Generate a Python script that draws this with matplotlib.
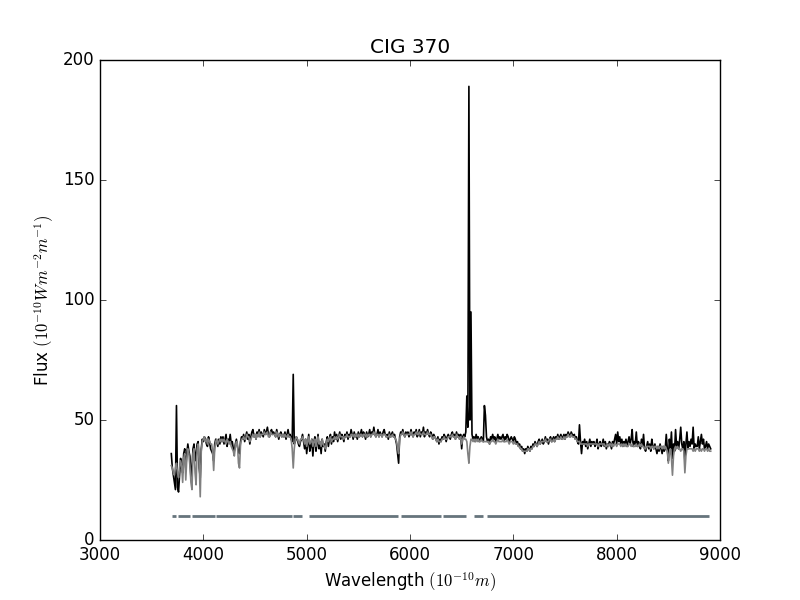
import numpy as np
import matplotlib
matplotlib.use("Agg")
import matplotlib.pyplot as plt

plt.style.use("classic")

# wavelength grid (Angstrom), 10 A sampling from 3690 to 8910
wave = np.arange(3690, 8911, 10)

# observed spectrum (black)
flux_obs = [
    36, 30, 27, 24, 21, 56, 22, 20, 27,
    34, 30, 28, 36, 38, 30, 36, 40, 37, 35,
    26, 30, 38, 40, 33, 36, 40, 41, 30, 26,
    38, 42, 41, 43, 42, 40, 39, 43, 41, 38,
    37, 36, 33, 40, 42, 41, 39, 42, 40, 43,
    41, 43, 40, 42, 44, 39, 42, 41, 44, 40,
    41, 38, 37, 40, 42, 39, 37, 36, 41, 43,
    42, 44, 41, 43, 45, 42, 44, 40, 43, 45,
    46, 43, 44, 42, 45, 44, 46, 43, 45, 44,
    43, 46, 44, 45, 47, 44, 43, 45, 46, 44,
    45, 44, 43, 46, 44, 42, 44, 45, 43, 44,
    43, 45, 42, 44, 46, 43, 44, 42, 41, 69,
    40, 41, 43, 42, 40, 39, 41, 42, 44, 41,
    38, 42, 36, 40, 44, 37, 39, 42, 35, 41,
    43, 37, 40, 44, 38, 41, 36, 42, 39, 40,
    37, 41, 43, 39, 42, 44, 40, 43, 41, 45,
    42, 44, 41, 43, 45, 42, 44, 43, 41, 44,
    43, 45, 42, 44, 43, 46, 44, 42, 45, 43,
    44, 42, 45, 43, 44, 46, 43, 45, 44, 42,
    45, 43, 44, 46, 43, 45, 44, 47, 44, 43,
    44, 46, 43, 45, 44, 43, 45, 46, 44, 43,
    44, 42, 45, 43, 44, 45, 43, 44, 42, 40,
    36, 32, 43, 45, 44, 46, 44, 43, 45, 44,
    45, 43, 44, 46, 44, 43, 45, 44, 46, 43,
    44, 46, 43, 45, 44, 47, 43, 45, 44, 46,
    44, 43, 45, 44, 42, 44, 43, 42, 41, 43,
    40, 42, 41, 43, 42, 44, 43, 41, 43, 44,
    43, 42, 44, 45, 43, 44, 42, 45, 43, 44,
    42, 44, 38, 43, 44, 43, 45, 60, 47, 189,
    50, 95, 44, 42, 43, 41, 44, 42, 43, 41,
    42, 43, 42, 41, 56, 52, 43, 41, 42, 40,
    43, 42, 44, 42, 43, 41, 42, 44, 42, 43,
    42, 43, 44, 41, 43, 42, 44, 43, 41, 42,
    43, 42, 41, 43, 42, 40, 41, 39, 40, 38,
    39, 37, 38, 36, 38, 37, 39, 38, 37, 39,
    38, 40, 39, 41, 40, 39, 41, 42, 40, 41,
    42, 40, 41, 43, 41, 42, 40, 42, 43, 41,
    42, 43, 41, 43, 42, 44, 42, 43, 44, 42,
    43, 44, 42, 44, 43, 45, 44, 43, 45, 44,
    43, 44, 42, 43, 41, 40, 48, 41, 36, 41,
    40, 42, 39, 41, 38, 40, 42, 39, 41, 40,
    41, 39, 40, 42, 38, 40, 41, 39, 40, 42,
    39, 41, 38, 40, 39, 41, 40, 38, 41, 40,
    42, 44, 40, 45, 41, 43, 40, 42, 39, 41,
    40, 42, 39, 41, 43, 40, 42, 46, 39, 41,
    40, 45, 39, 41, 40, 38, 42, 39, 44, 38,
    37, 39, 41, 38, 40, 37, 42, 39, 38, 40,
    38, 36, 39, 37, 40, 38, 36, 39, 37, 38,
    44, 38, 33, 42, 38, 45, 34, 40, 37, 46,
    39, 41, 38, 42, 47, 40, 38, 41, 33, 40,
    45, 38, 41, 39, 42, 40, 47, 38, 40, 39,
    39, 43, 38, 41, 44, 40, 42, 38, 39, 41,
    38, 40, 39, 38,
]

# synthetic (model) spectrum (gray)
flux_syn = [
    31, 30, 28, 27, 30, 32, 28, 26, 30,
    33, 31, 24, 34, 36, 25, 34, 38, 36, 31,
    24, 21, 36, 38, 28, 23, 38, 40, 32, 18,
    37, 41, 42, 43, 41, 42, 40, 42, 41, 40,
    40, 37, 29, 38, 41, 42, 40, 41, 42, 41,
    42, 41, 42, 41, 40, 42, 41, 40, 41, 39,
    38, 37, 35, 39, 41, 40, 32, 30, 40, 42,
    42, 43, 42, 42, 44, 43, 43, 41, 42, 43,
    44, 43, 44, 42, 44, 43, 45, 43, 44, 44,
    44, 45, 44, 44, 45, 43, 43, 45, 44, 44,
    44, 44, 43, 45, 44, 43, 44, 44, 43, 44,
    43, 44, 43, 43, 44, 43, 43, 42, 38, 30,
    38, 42, 43, 42, 41, 40, 42, 42, 43, 42,
    40, 42, 39, 41, 43, 40, 41, 42, 39, 41,
    42, 39, 41, 43, 40, 41, 39, 42, 40, 39,
    38, 40, 42, 41, 42, 43, 41, 42, 42, 43,
    42, 43, 42, 43, 44, 43, 43, 43, 42, 43,
    43, 44, 43, 43, 43, 44, 44, 43, 44, 43,
    44, 43, 44, 43, 44, 44, 43, 44, 44, 43,
    44, 43, 44, 44, 43, 44, 44, 45, 44, 43,
    44, 44, 43, 44, 44, 43, 44, 44, 44, 43,
    43, 43, 44, 43, 43, 44, 43, 43, 42, 41,
    38, 36, 42, 44, 44, 45, 44, 43, 44, 44,
    44, 44, 44, 45, 44, 43, 44, 44, 45, 44,
    44, 45, 44, 44, 44, 45, 44, 44, 44, 45,
    44, 44, 44, 43, 42, 43, 43, 42, 41, 42,
    41, 41, 41, 42, 42, 43, 42, 42, 42, 43,
    43, 43, 43, 44, 43, 43, 42, 44, 43, 43,
    42, 43, 40, 42, 43, 42, 42, 41, 36, 32,
    39, 42, 42, 41, 42, 41, 42, 41, 42, 41,
    41, 42, 41, 41, 41, 41, 41, 41, 41, 40,
    41, 41, 42, 41, 41, 40, 41, 42, 41, 41,
    41, 41, 42, 41, 41, 41, 42, 41, 40, 41,
    41, 41, 40, 41, 40, 40, 40, 39, 39, 38,
    38, 37, 37, 37, 37, 37, 38, 38, 37, 38,
    38, 39, 39, 40, 40, 39, 40, 41, 40, 41,
    41, 41, 41, 42, 41, 41, 41, 42, 42, 41,
    41, 42, 41, 42, 42, 43, 42, 42, 43, 42,
    42, 43, 42, 43, 43, 44, 43, 43, 44, 43,
    43, 43, 42, 42, 41, 41, 41, 40, 40, 40,
    40, 40, 40, 40, 39, 40, 40, 40, 40, 40,
    40, 40, 40, 40, 39, 40, 40, 40, 40, 40,
    40, 39, 39, 40, 39, 40, 40, 39, 40, 39,
    40, 40, 39, 40, 40, 40, 39, 40, 39, 40,
    39, 40, 39, 39, 40, 40, 39, 40, 39, 39,
    39, 40, 39, 39, 40, 39, 40, 39, 39, 38,
    38, 39, 39, 39, 39, 38, 39, 39, 38, 39,
    39, 38, 39, 38, 39, 39, 38, 39, 38, 39,
    38, 37, 32, 36, 38, 34, 27, 35, 38, 39,
    38, 39, 38, 38, 37, 38, 38, 37, 28, 35,
    38, 38, 38, 38, 38, 38, 37, 38, 37, 38,
    38, 38, 37, 38, 37, 38, 38, 37, 38, 38,
    37, 38, 37, 37,
]

# fitted (unmasked) wavelength windows, drawn at flux = 10
mask_start = [3698, 3759, 3887, 4119, 4867, 5026, 5917, 6318, 6617, 6746]
mask_end = [3733, 3873, 4109, 4859, 4958, 5884, 6299, 6546, 6710, 8895]
mask_level = 10

fig = plt.figure(figsize=(8, 6), dpi=100)
ax = fig.add_subplot(111)

ax.plot(wave, flux_obs, color="black", lw=1.2)
ax.plot(wave, flux_syn, color="0.5", lw=1.2)
ax.hlines([mask_level] * len(mask_start), mask_start, mask_end,
          colors="#66747c", lw=2)

ax.set_xlim(3000, 9000)
ax.set_ylim(0, 200)
ax.set_title("CIG 370")
ax.set_xlabel(r"Wavelength $(10^{-10}m)$")
ax.set_ylabel(r"Flux $(10^{-10}Wm^{-2}m^{-1})$")

fig.savefig("out.png", dpi=100)
